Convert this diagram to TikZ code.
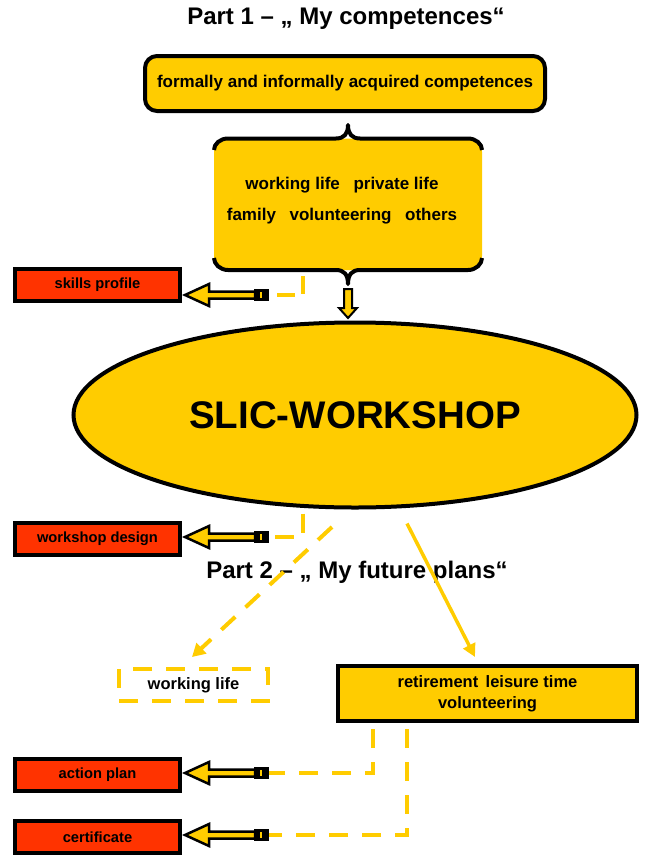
\documentclass[tikz,border=0pt]{standalone}
\usepackage{fontspec}
\setmainfont{Liberation Sans}
\usetikzlibrary{arrows.meta,calc,shapes.geometric}
\definecolor{slicyellow}{HTML}{FFCC00}
\definecolor{slicred}{HTML}{FF3300}
\newcommand{\fsize}[2]{\fontsize{#1}{#2}\selectfont\bfseries}

\tikzset{
  larrow/.pic={
    \draw[fill=slicyellow,line width=2.5pt] (0,0) -- (24,-11) -- (24,-3.5) -- (70,-3.5)
      -- (70,3.5) -- (24,3.5) -- (24,11) -- cycle;
    \fill[black] (69,-6) rectangle (84,6);
    \fill[slicyellow] (75,-3) rectangle (76.5,3);
    \coordinate (-tail) at (84,0);
  }
}

\begin{document}
\begin{tikzpicture}[x=1pt,y=-1pt,
    parttitle/.style={font=\fsize{24}{28}},
    ybox/.style={draw,line width=4pt,fill=slicyellow,font=\fsize{16.5}{21},align=center,inner sep=0pt},
    rbox/.style={draw,line width=4pt,fill=slicred,minimum width=165pt,minimum height=32pt,
      inner sep=0pt,font=\fsize{14.7}{17}},
    dline/.style={draw=slicyellow,line width=4pt,dash pattern=on 19pt off 14pt},
    sline/.style={draw=slicyellow,line width=3.5pt,-{Triangle[length=13pt,width=13pt]}}]
  \useasboundingbox (0,0) rectangle (654,865);

  \node[parttitle] (p1) at (346,19) {Part 1 – „ My competences“};
  \node[parttitle] (p2) at (357,572) {Part 2 – „ My future plans“};

  % red result boxes with their arrows
  \node[rbox] (skills) at (97.5,285) {skills profile};
  \node[rbox] (design) at (97.5,539) {workshop design};
  \node[rbox] (plan) at (97.5,775) {action plan};
  \node[rbox] (cert) at (97.5,837) {certificate};

  \pic (skillsarr) at ([xshift=3pt,yshift=-10pt]skills.east) {larrow};
  \pic (designarr) at ([xshift=3pt,yshift=2pt]design.east) {larrow};
  \pic (planarr) at ([xshift=3pt,yshift=2pt]plan.east) {larrow};
  \pic (certarr) at ([xshift=3pt,yshift=2pt]cert.east) {larrow};

  \node[ybox,minimum width=299pt,minimum height=55pt] (ret) at (487.5,693.5)
    {retirement\hspace{0.45em}leisure time\\volunteering};
  \node[dline,minimum width=149pt,minimum height=32pt,font=\fsize{16.5}{20}] (wl) at (193.5,685)
    {working life};

  \draw[dline,dash pattern=on 18pt off 9pt] (303,276) |- (skillsarr-tail);
  \draw[dline] ($(ret.south)+(-114.5,6)$) |- (planarr-tail);
  \draw[dline] ($(ret.south)+(-80.5,6)$) |- (certarr-tail);

  % workshop
  \node[ybox,ellipse,minimum width=563pt,minimum height=185pt,font=\fsize{38.5}{44}] (ws) at (355,415)
    {SLIC-WORKSHOP};
  \draw[dline] ($(ws.south)+(-52,4)$) |- (designarr-tail);
  \draw[dline,-{Triangle[length=13pt,width=14pt]}] ($(ws.south)+(-23,17.5)$) -- ($(wl.north)+(-1.5,-10)$);
  \draw[sline] ($(ws.south)+(52,14)$) -- ($(ret.north)+(-12.5,-7)$);

  % competences
  \node[ybox,rounded corners=12pt,minimum width=400pt,minimum height=55pt,font=\fsize{17}{20}] (acq)
    at (345,83.5) {formally and informally acquired competences};

  \fill[slicyellow] (214,152) .. controls (214,144) and (220,138.5) .. (228,138.5) -- (468,138.5)
    .. controls (476,138.5) and (482,144) .. (482,152) -- (482,256)
    .. controls (482,264) and (476,270) .. (468,270) -- (228,270)
    .. controls (220,270) and (214,264) .. (214,256) -- cycle;
  \draw[line width=4pt,line join=round] (214,150) .. controls (214,144) and (220,138.5) .. (228,138.5)
    -- (336,138.5) .. controls (344,138.5) and (348,134) .. (348,125)
    .. controls (348,134) and (352,138.5) .. (360,138.5) -- (468,138.5)
    .. controls (476,138.5) and (482,144) .. (482,150);
  \draw[line width=4pt,line join=round] (214,258) .. controls (214,264) and (220,270) .. (228,270)
    -- (336,270) .. controls (344,270) and (348,274.5) .. (348,284)
    .. controls (348,274.5) and (352,270) .. (360,270) -- (468,270)
    .. controls (476,270) and (482,264) .. (482,258);
  \node[font=\fsize{17}{31},align=center] (life) at (342,201)
    {working life\hspace{0.8em}private life\\family\hspace{0.8em}volunteering\hspace{0.8em}others};

  \draw[fill=slicyellow,line width=2pt] (344,289) -- (352,289) -- (352,308) -- (357,308)
    -- (348,318) -- (339,308) -- (344,308) -- cycle;
\end{tikzpicture}
\end{document}
